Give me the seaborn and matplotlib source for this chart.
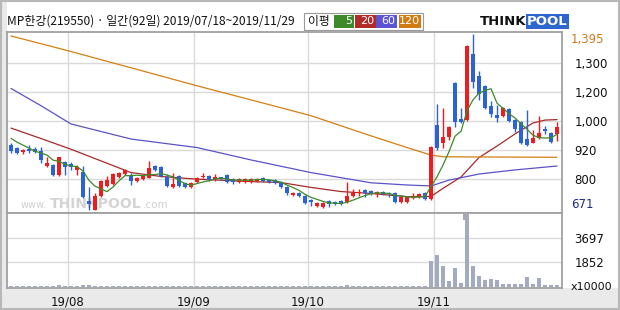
import numpy as np
import pandas as pd
import matplotlib
matplotlib.use("Agg")
import matplotlib.pyplot as plt
import seaborn as sns
from matplotlib.patches import Rectangle
from matplotlib.ticker import FuncFormatter
import math

# ---------------- data ----------------
title = "MP한강(219550) · 일간(92일) 2019/07/18~2019/11/29"
opens = [938, 926, 910, 922, 922, 915, 852, 856, 815, 868, 860, 836, 827, 708, 671, 729, 770, 778, 807, 819,
         811, 790, 799, 803, 852, 848, 807, 766, 811, 782, 766, 786, 807, 811, 799, 805, 815, 799, 786, 786,
         786, 790, 803, 794, 794, 786, 766, 733, 741, 729, 712, 688, 683, 708, 704, 708, 704, 729, 741, 753,
         749, 737, 745, 743, 741, 704, 704, 720, 725, 741, 716, 1021, 947, 971, 1193, 1045, 1041, 1313, 1222, 1181,
         1099, 1062, 1058, 1086, 1041, 1033, 963, 947, 967, 1004, 988, 984]
highs = [947, 930, 922, 938, 930, 930, 889, 860, 891, 873, 868, 856, 852, 766, 741, 794, 811, 823, 827, 840,
         823, 807, 815, 873, 856, 852, 819, 823, 815, 786, 786, 807, 823, 815, 819, 807, 819, 803, 803, 803,
         803, 803, 807, 799, 799, 790, 770, 745, 745, 733, 716, 704, 704, 712, 708, 712, 786, 757, 757, 757,
         753, 749, 749, 745, 745, 729, 729, 741, 741, 745, 934, 1107, 1091, 1017, 1198, 1091, 1350, 1395, 1243, 1185,
         1119, 1103, 1095, 1091, 1045, 1037, 1082, 1000, 1058, 1017, 992, 1033]
lows = [906, 901, 901, 906, 906, 864, 848, 811, 813, 815, 836, 815, 720, 671, 671, 725, 766, 774, 803, 815,
        774, 786, 794, 801, 832, 807, 766, 762, 766, 762, 762, 782, 803, 790, 790, 794, 782, 778, 782, 782,
        782, 786, 786, 784, 778, 762, 733, 729, 725, 696, 688, 683, 679, 683, 692, 692, 700, 725, 729, 725,
        733, 725, 733, 725, 700, 700, 700, 718, 720, 712, 712, 918, 926, 959, 1012, 1029, 1037, 1173, 1123, 1086,
        1054, 1033, 1054, 1033, 992, 943, 934, 945, 965, 984, 947, 955]
closes = [915, 906, 918, 915, 911, 877, 864, 815, 889, 848, 848, 848, 725, 696, 729, 790, 794, 819, 823, 836,
          790, 803, 811, 844, 836, 811, 770, 778, 770, 766, 782, 803, 811, 794, 807, 797, 786, 786, 799, 799,
          799, 799, 790, 788, 782, 766, 741, 741, 729, 700, 704, 700, 700, 696, 696, 696, 729, 741, 745, 741,
          737, 745, 737, 735, 704, 725, 725, 729, 737, 716, 931, 926, 971, 1012, 1033, 1033, 1346, 1198, 1148, 1091,
          1066, 1050, 1091, 1037, 1004, 947, 938, 967, 988, 996, 951, 1012]
prior_closes = [985, 980, 975, 975]          # closes before 2019/07/18 (for the 5-day average)
volumes = [60, 55, 60, 50, 60, 70, 60, 65, 150, 60, 55, 60, 130, 140, 90, 60, 55, 60, 50, 60,
           55, 60, 50, 65, 60, 55, 60, 50, 55, 60, 50, 55, 60, 50, 55, 60, 55, 50, 55, 60,
           50, 55, 60, 50, 55, 60, 55, 50, 55, 60, 50, 55, 60, 50, 55, 60, 130, 60, 55, 50,
           55, 60, 50, 55, 60, 55, 50, 55, 70, 80, 1950, 2400, 1575, 450, 1450, 300, 5500, 1575, 825, 525,
           600, 500, 225, 225, 225, 225, 750, 225, 675, 150, 150, 150]   # x10000 shares

ma20_idx = [0, 5, 10, 15, 20, 25, 31, 40, 45, 50, 55, 60, 66, 70, 72, 75, 78, 81, 84, 87, 89, 91]
ma20_val = [1008, 965, 921, 873, 825, 809, 798, 788, 784, 764, 747, 739, 726, 727, 760, 807, 887, 934, 984, 1029, 1041, 1043]
ma60_idx = [0, 5, 10, 20, 31, 40, 50, 60, 66, 70, 73, 78, 84, 91]
ma60_val = [1171, 1100, 1025, 963, 928, 877, 825, 783, 774, 770, 794, 819, 836, 852]
ma120_idx = [0, 10, 20, 31, 40, 50, 60, 66, 70, 72, 80, 91]
ma120_val = [1387, 1323, 1256, 1182, 1124, 1059, 976, 928, 897, 890, 889, 888]

ma_periods = ["5", "20", "60", "120"]
month_idx = [10, 31, 50, 71]
month_labels = ["19/08", "19/09", "19/10", "19/11"]
price_grid = [799, 918, 1037, 1157, 1276]
vol_grid = [1852, 3697]

# ---------------- style ----------------
sns.set_theme(style="white")
plt.rcParams["font.family"] = ["DejaVu Sans"]
CJK = ["Noto Sans CJK KR", "DejaVu Sans"]
UP, DOWN = "#EE1C1C", "#2C62D8"
C5, C20, C60, C120 = "#3C8A2A", "#A52A2A", "#5A52C8", "#D47F12"
GRID = "#DADADA"
FRAME = "#A0A0A0"

W, H = 620, 310
fx = lambda x: x / W
fy = lambda y: 1 - y / H

fig = plt.figure(figsize=(6.2, 3.1), dpi=100, facecolor="white")
# light grey margins (left strip and bottom strip) and outer frame
fig.patches.append(Rectangle((0, 0), fx(7.3), 1, transform=fig.transFigure, facecolor="#EAEAEA",
                             edgecolor="none", zorder=-5))
fig.patches.append(Rectangle((0, 0), 1, fy(288.3), transform=fig.transFigure, facecolor="#EAEAEA",
                             edgecolor="none", zorder=-5))
fig.patches.append(Rectangle((0.0015, 0.003), 0.997, 0.994, transform=fig.transFigure, facecolor="none",
                             edgecolor="#B8B8B8", lw=1.5, zorder=-4))

ax = fig.add_axes([fx(7.3), fy(212.7), (562 - 7.3) / W, (212.7 - 31.7) / H])
axv = fig.add_axes([fx(7.3), fy(288.3), (562 - 7.3) / W, (288.3 - 212.7) / H])
ax.set_zorder(2)
axv.set_zorder(2)

n = len(closes)
xs = np.arange(n)
df = pd.DataFrame({"i": xs, "open": opens, "high": highs, "low": lows, "close": closes, "vol": volumes})
up = df["close"] >= df["open"]
colors = np.where(up, UP, DOWN)

for a in (ax, axv):
    a.set_facecolor("white")
    a.set_xlim(-0.62, 91.83)
    for s in a.spines.values():
        s.set_color(FRAME)
        s.set_linewidth(1.3)
    for m in month_idx:
        a.axvline(m - 0.5, color=GRID, lw=1.0, zorder=0.5)

# ---- price panel ----
ax.set_ylim(660, 1404.5)
for g in price_grid:
    ax.axhline(g, color=GRID, lw=1.0, zorder=0.5)

# watermark
ax.text(fx(21), fy(208), "www.", transform=fig.transFigure, color="#CFCFCF", fontsize=7, zorder=1.5)
ax.text(fx(50), fy(208), "THINKPOOL", transform=fig.transFigure, color="#D4D4D4", fontsize=10,
        weight="bold", zorder=1.5)
ax.text(fx(143), fy(208), ".com", transform=fig.transFigure, color="#CFCFCF", fontsize=7.5, zorder=1.5)

body_lo = np.minimum(df["open"], df["close"])
body_h = np.maximum(np.abs(df["close"] - df["open"]), 4)
ax.vlines(xs, df["low"], df["high"], colors=colors, lw=1.0, zorder=3)
ax.bar(xs, body_h, bottom=body_lo, width=0.8, color=colors, edgecolor="none", zorder=3)

ma5 = pd.Series(prior_closes + closes).rolling(5).mean().iloc[len(prior_closes):].to_numpy()
sns.lineplot(x=xs, y=ma5, ax=ax, color=C5, lw=0.9, zorder=4)
sns.lineplot(x=ma20_idx, y=ma20_val, ax=ax, color=C20, lw=0.9, zorder=2)
sns.lineplot(x=ma60_idx, y=ma60_val, ax=ax, color=C60, lw=0.9, zorder=2)
sns.lineplot(x=ma120_idx, y=ma120_val, ax=ax, color=C120, lw=0.9, zorder=2)


def sig2(v, pos=None):
    d = int(math.floor(math.log10(abs(v))))
    return f"{round(v, -d + 1):,.0f}"


ax.set_yticks(price_grid)
ax.yaxis.set_major_formatter(FuncFormatter(sig2))
ax.yaxis.tick_right()
ax.tick_params(axis="y", length=0, pad=9, labelsize=8.5, colors="#111111")
ax.set_xticks([m - 0.5 for m in month_idx])
ax.tick_params(axis="x", length=0, labelbottom=False)
ax.set_xlabel("")
ax.set_ylabel("")
ax.annotate(f"{max(highs):,}", xy=(1, max(highs)), xycoords=("axes fraction", "data"), xytext=(6.5, 1),
            textcoords="offset points", va="top", ha="left", color="#D07A1E", fontsize=8.5)
ax.annotate(f"{min(lows):,}", xy=(1, min(lows)), xycoords=("axes fraction", "data"), xytext=(6.5, -1),
            textcoords="offset points", va="bottom", ha="left", color="#1E2A8C", fontsize=8.5)

# ---- volume panel ----
axv.set_ylim(-98, 5574)
for g in vol_grid:
    axv.axhline(g, color=GRID, lw=1.0, zorder=0.5)
axv.bar(xs, df["vol"], width=0.8, color="#A3ABC3", edgecolor="none", zorder=2)
axv.set_yticks(vol_grid)
axv.set_yticklabels([str(v) for v in vol_grid])
axv.yaxis.tick_right()
axv.tick_params(axis="y", length=0, pad=9, labelsize=8.5, colors="#111111")
axv.annotate("x10000", xy=(1, 0), xycoords=("axes fraction", "data"), xytext=(6.5, 0),
             textcoords="offset points", va="center", ha="left", color="#111111", fontsize=8)
axv.set_xticks([m - 0.5 for m in month_idx])
axv.set_xticklabels(month_labels)
axv.tick_params(axis="x", length=0, pad=5, labelsize=8.5, colors="#111111")
axv.set_xlabel("")
axv.set_ylabel("")
# small scroll marker
axv.add_patch(Rectangle((75.3, 5574 - 520), 0.6, 520, facecolor="#A8A8A8", edgecolor="none", zorder=5,
                        clip_on=False))

# ---- header ----
fig.text(fx(7), fy(21.5), title, family=CJK, fontsize=8.6, va="center", ha="left", color="#111111")
fig.patches.append(Rectangle((fx(303.5), fy(30)), (423 - 303.5) / W, (30 - 12.7) / H, transform=fig.transFigure,
                             facecolor="white", edgecolor="#9A9A9A", lw=0.8))
fig.text(fx(319), fy(21.5), "이평", family=CJK, fontsize=8.5, va="center", ha="center", color="#111111")
boxes = [(334, 354, C5), (354.5, 375.5, "#B22A2A"), (376, 397, "#5B55D2"), (399, 421, "#D07A12")]
for (x0, x1, c), lab in zip(boxes, ma_periods):
    fig.patches.append(Rectangle((fx(x0), fy(28)), (x1 - x0) / W, 13 / H, transform=fig.transFigure,
                                 facecolor=c, edgecolor="none"))
    fig.text(fx(x1 - 1.5), fy(21.5), lab, color="white", fontsize=8, va="center", ha="right")

fig.text(fx(480), fy(21.5), "THINK", weight="bold", fontsize=9.5, va="center", ha="left", color="#111111")
fig.text(fx(527), fy(21.5), "POOL", weight="bold", fontsize=9.5, va="center", ha="left", color="white",
         bbox=dict(facecolor="#2E66D0", edgecolor="none", pad=0.8))

fig.savefig("out.png", dpi=100, facecolor=fig.get_facecolor())
